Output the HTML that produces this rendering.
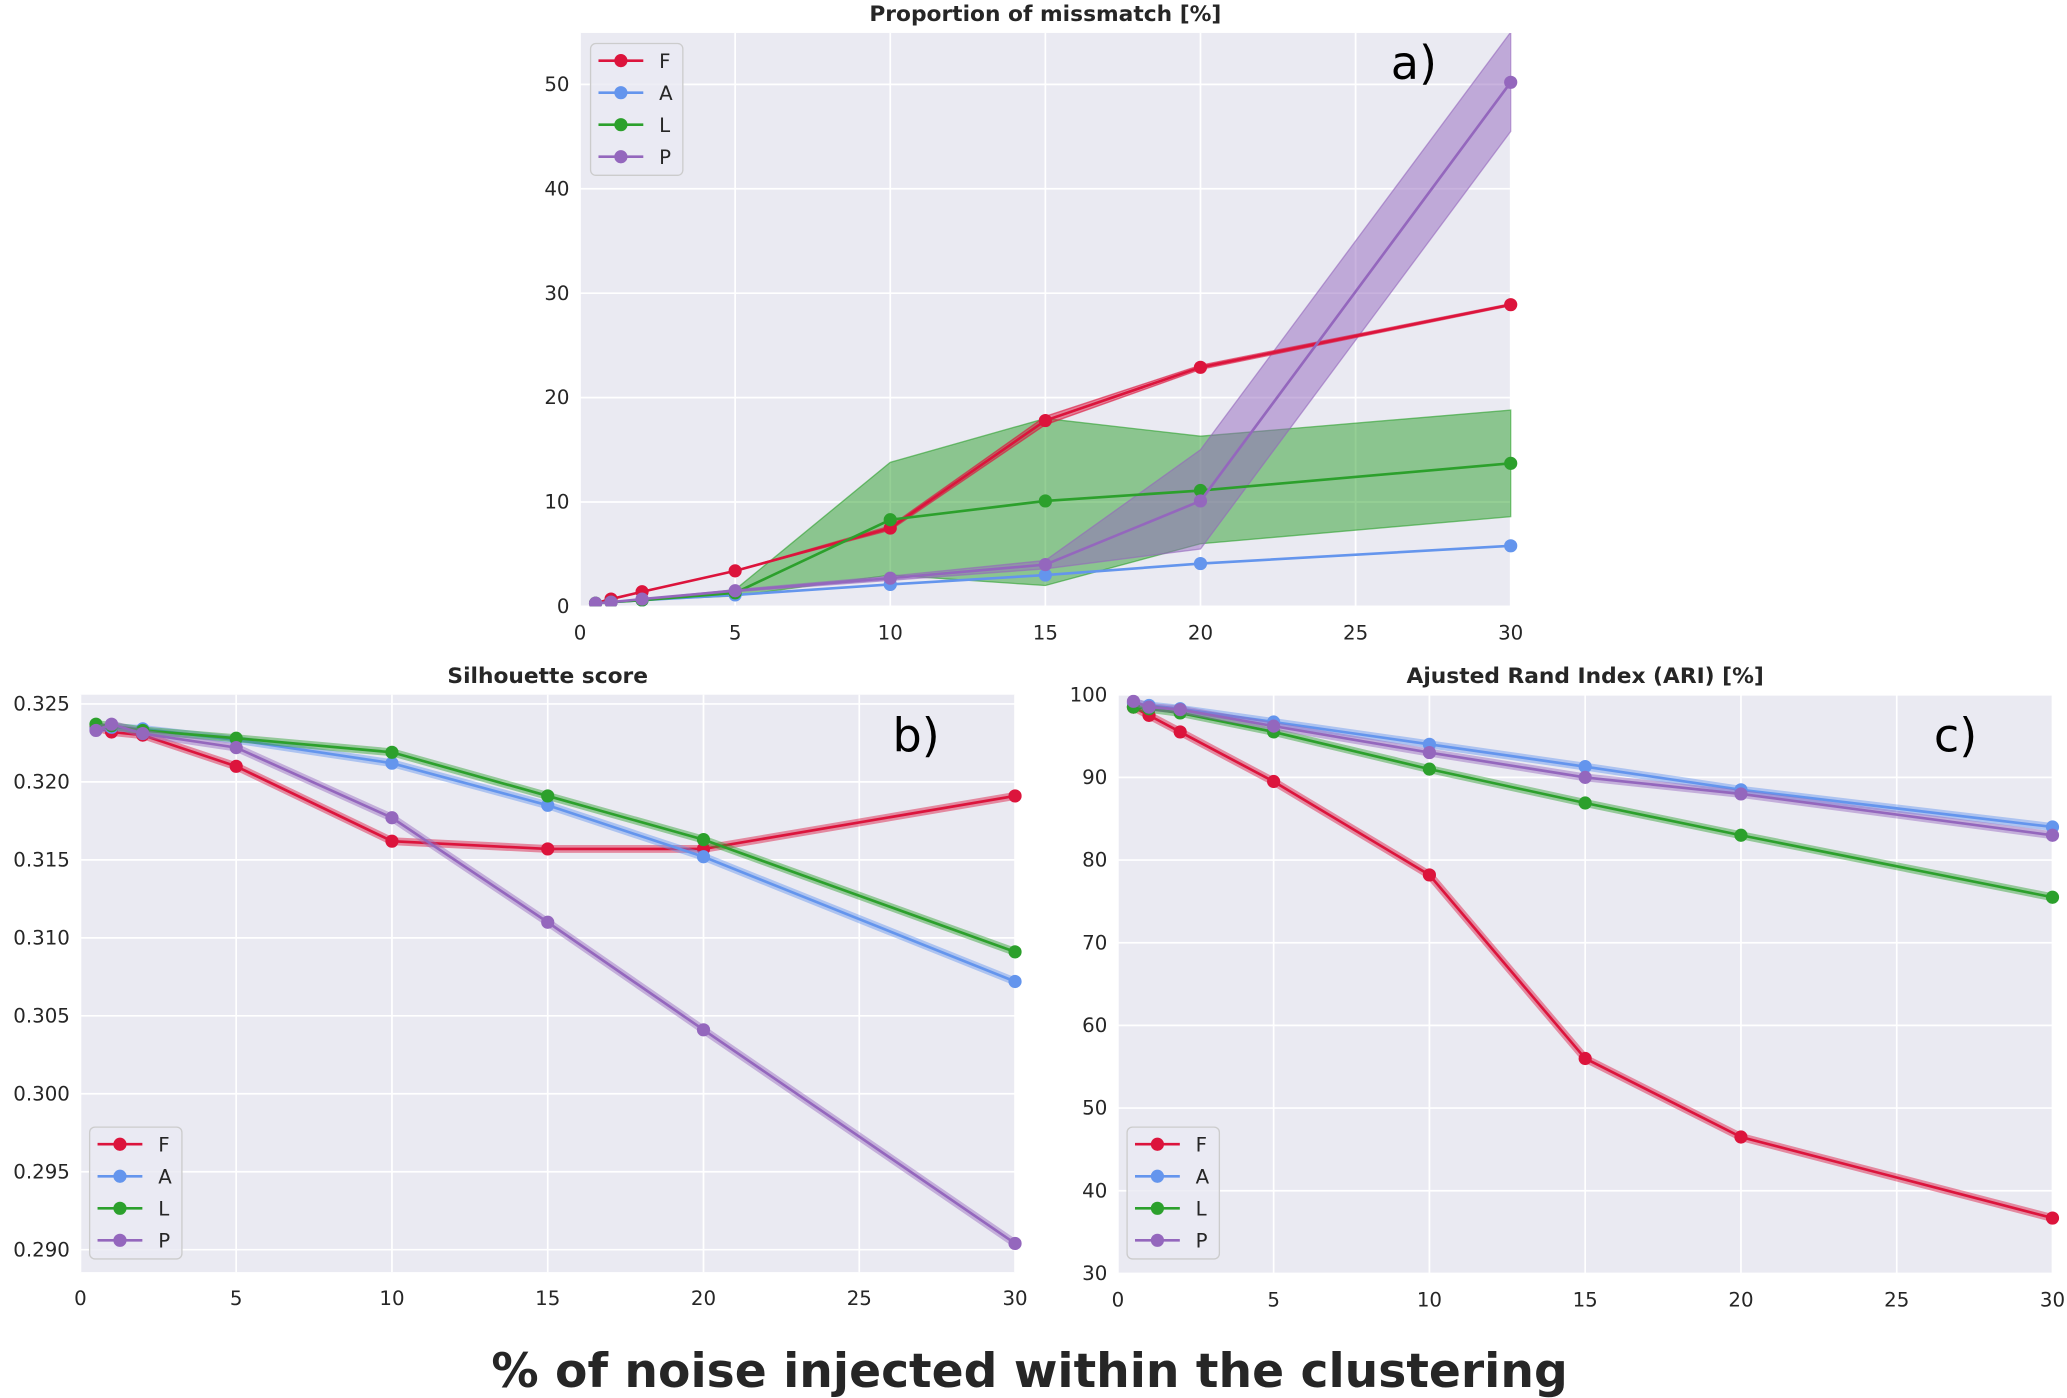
<!DOCTYPE html>
<html><head><meta charset="utf-8"><style>
html,body{margin:0;padding:0;background:#fff}
svg{display:block;font-family:"DejaVu Sans","Liberation Sans",sans-serif}
</style></head><body>
<svg id="chart" width="2067" height="1398" viewBox="0 0 1568 1060.5" xmlns="http://www.w3.org/2000/svg"></svg>
<script>
const xs = [0.5, 1, 2, 5, 10, 15, 20, 30];
const xTicks = [0, 5, 10, 15, 20, 25, 30];
const seriesNames = ["F", "A", "L", "P"];
const colors = {F:"#dc143c", A:"#6495ed", L:"#2ca02c", P:"#9467bd"};

// panel a: proportion of mismatch
const aF = [0.3, 0.7, 1.4, 3.4, 7.5, 17.8, 22.9, 28.9];
const aA = [0.3, 0.4, 0.6, 1.1, 2.1, 3.0, 4.1, 5.8];
const aL = [0.3, 0.4, 0.6, 1.3, 8.3, 10.1, 11.1, 13.7];
const aP = [0.3, 0.4, 0.7, 1.5, 2.7, 4.0, 10.1, 50.2];
const aLlo = [0.3, 0.4, 0.6, 1.0, 3.0, 2.0, 6.0, 8.6];
const aLhi = [0.3, 0.4, 0.6, 1.6, 13.8, 18.0, 16.3, 18.8];
const aPlo = [0.3, 0.4, 0.7, 1.4, 2.5, 3.6, 5.5, 45.5];
const aPhi = [0.3, 0.4, 0.7, 1.6, 2.9, 4.4, 15.0, 55.0];
const aFlo = [0.3, 0.7, 1.4, 3.4, 7.3, 17.4, 22.7, 28.8];
const aFhi = [0.3, 0.7, 1.4, 3.4, 7.7, 18.2, 23.1, 29.0];
const aYTicks = [0, 10, 20, 30, 40, 50];

// panel b: silhouette
const bF = [0.3235, 0.3232, 0.3230, 0.3210, 0.3162, 0.3157, 0.3157, 0.3191];
const bA = [0.3234, 0.3235, 0.3234, 0.3227, 0.3212, 0.3185, 0.3152, 0.3072];
const bL = [0.3237, 0.3236, 0.3233, 0.3228, 0.3219, 0.3191, 0.3163, 0.3091];
const bP = [0.3233, 0.3237, 0.3231, 0.3222, 0.3177, 0.3110, 0.3041, 0.2904];
const bYTicks = [0.290, 0.295, 0.300, 0.305, 0.310, 0.315, 0.320, 0.325];

// panel c: ARI
const cF = [98.5, 97.5, 95.5, 89.5, 78.2, 56.0, 46.5, 36.7];
const cA = [99.0, 98.7, 98.3, 96.7, 94.0, 91.3, 88.5, 84.0];
const cL = [98.5, 98.3, 97.8, 95.5, 91.0, 86.9, 83.0, 75.5];
const cP = [99.2, 98.5, 98.2, 96.2, 93.0, 90.0, 88.0, 83.0];
const cYTicks = [30, 40, 50, 60, 70, 80, 90, 100];

const NS = "http://www.w3.org/2000/svg";
const svg = document.getElementById("chart");
function el(tag, attrs, parent, text){
  const e = document.createElementNS(NS, tag);
  for (const k in attrs) e.setAttribute(k, attrs[k]);
  if (text !== undefined) e.textContent = text;
  (parent || svg).appendChild(e);
  return e;
}
function makeAxis(d0, d1, r0, r1){ return v => r0 + (v - d0) / (d1 - d0) * (r1 - r0); }

function panel(cfg){
  const g = el("g", {});
  
  
  const X = makeAxis(0, 30, cfg.x0, cfg.x1);
  const Y = makeAxis(cfg.yv0, cfg.yv1, cfg.yp0, cfg.yp1);
  const bg = el("rect", {x:cfg.left, y:cfg.top, width:cfg.right-cfg.left, height:cfg.bottom-cfg.top, fill:"#eaeaf2"}, g);
  
  
  xTicks.forEach(t => {
    el("line", {x1:X(t), x2:X(t), y1:cfg.top, y2:cfg.bottom, stroke:"#fff", "stroke-width":1.3}, g);
    const tl = el("text", {x:X(t), y:cfg.bottom+25, "text-anchor":"middle", "font-size":15, fill:"#262626"}, g, String(t));
    
    
  });
  cfg.yTicks.forEach(t => {
    el("line", {x1:cfg.left, x2:cfg.right, y1:Y(t), y2:Y(t), stroke:"#fff", "stroke-width":1.3}, g);
    const tl = el("text", {x:cfg.left-8, y:Y(t)+5, "text-anchor":"end", "font-size":15, fill:"#262626"}, g, cfg.fmt(t));
    
    
  });
  const clip = el("clipPath", {id:cfg.name+"-clip"}, g);
  el("rect", {x:cfg.left, y:cfg.top, width:cfg.right-cfg.left+6, height:cfg.bottom-cfg.top}, clip);
  const inner = el("g", {"clip-path":"url(#"+cfg.name+"-clip)"}, g);
  cfg.bands.forEach(b => {
    let d = "";
    xs.forEach((x,i)=>{ d += (i?"L":"M") + X(x) + "," + Y(b.hi[i]); });
    for (let i = xs.length-1; i >= 0; i--) d += "L" + X(xs[i]) + "," + Y(b.lo[i]);
    const p = el("path", {d:d+"Z", fill:colors[b.s], "fill-opacity":0.5, stroke:colors[b.s], "stroke-opacity":0.6, "stroke-width":1}, inner);
    
    
  });
  cfg.series.forEach(s => {
    const pts = xs.map((x,i)=>X(x)+","+Y(s.v[i])).join(" ");
    if (cfg.thinBand) {
      const tb = el("polyline", {points:pts, fill:"none", stroke:colors[s.s], "stroke-opacity":0.45, "stroke-width":6}, inner);
      
      
    }
    const l = el("polyline", {points:pts, fill:"none", stroke:colors[s.s], "stroke-width":2}, inner);
    
    
    xs.forEach((x,i)=>{
      const c = el("circle", {cx:X(x), cy:Y(s.v[i]), r:5, fill:colors[s.s]}, inner);
      
      
    });
  });
  const title = el("text", {x:(cfg.left+cfg.right)/2, y:cfg.top-9, "text-anchor":"middle", "font-size":16.5, "font-weight":"bold", fill:"#262626"}, g, cfg.title);
  
  
  const lab = el("text", {x:cfg.lab[0], y:cfg.lab[1], "font-size":35, fill:"#000"}, g, cfg.labText);
  
  
  const lg = el("g", {}, g);
  
  
  el("rect", {x:cfg.leg[0], y:cfg.leg[1], width:70, height:100, rx:4, fill:"#eaeaf2", stroke:"#ccc", "fill-opacity":0.8}, lg);
  seriesNames.forEach((n,i)=>{
    const yy = cfg.leg[1] + 13 + i*24.3;
    const e = el("g", {}, lg);
    
    
    el("line", {x1:cfg.leg[0]+6, x2:cfg.leg[0]+40, y1:yy, y2:yy, stroke:colors[n], "stroke-width":2}, e);
    el("circle", {cx:cfg.leg[0]+23, cy:yy, r:5, fill:colors[n]}, e);
    el("text", {x:cfg.leg[0]+52, y:yy+5.5, "font-size":15, fill:"#262626"}, e, n);
  });
}

panel({name:"panel-a", title:"Proportion of missmatch [%]", left:440, right:1146, top:25, bottom:460,
  x0:440, x1:1146, yv0:0, yv1:50, yp0:460, yp1:64, yTicks:aYTicks, fmt:t=>String(t),
  bands:[{s:"L",lo:aLlo,hi:aLhi},{s:"P",lo:aPlo,hi:aPhi},{s:"F",lo:aFlo,hi:aFhi}],
  series:[{s:"F",v:aF},{s:"A",v:aA},{s:"L",v:aL},{s:"P",v:aP}],
  lab:[1055,60], labText:"a)", leg:[448,33]});
panel({name:"panel-b", title:"Silhouette score", left:61, right:770, top:527, bottom:965,
  x0:61, x1:770, yv0:0.325, yv1:0.290, yp0:534, yp1:948, yTicks:bYTicks, fmt:t=>t.toFixed(3),
  bands:[], thinBand:true,
  series:[{s:"F",v:bF},{s:"A",v:bA},{s:"L",v:bL},{s:"P",v:bP}],
  lab:[677,570], labText:"b)", leg:[68,855]});
panel({name:"panel-c", title:"Ajusted Rand Index (ARI) [%]", left:848, right:1557, top:527, bottom:966,
  x0:848, x1:1557, yv0:100, yv1:30, yp0:527, yp1:966, yTicks:cYTicks, fmt:t=>String(t),
  bands:[], thinBand:true,
  series:[{s:"F",v:cF},{s:"A",v:cA},{s:"L",v:cL},{s:"P",v:cP}],
  lab:[1467,570], labText:"c)", leg:[855,855]});

const xl = el("text", {x:781, y:1052, "text-anchor":"middle", "font-size":35.8, "font-weight":"bold", fill:"#262626"}, svg, "% of noise injected within the clustering");


</script>
</body></html>
